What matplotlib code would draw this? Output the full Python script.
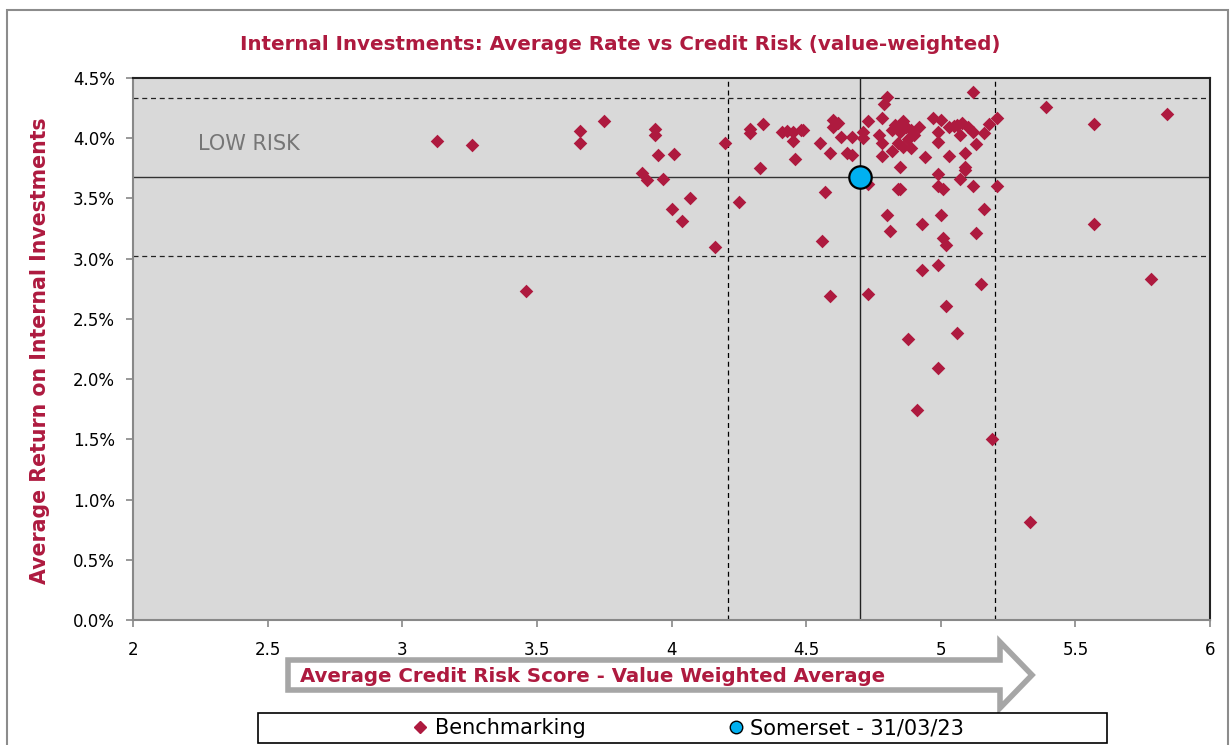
import numpy as np
import matplotlib
matplotlib.use('Agg')
import matplotlib.pyplot as plt
from matplotlib.patches import Rectangle, Polygon
from matplotlib.ticker import FuncFormatter

# benchmarking points: credit risk score, average return (%)
bench_x = [3.13, 3.26, 3.46, 3.66, 3.66, 3.75, 3.94, 3.94, 3.95, 4.01,
           3.89, 3.91, 3.97, 4.07, 4.00, 4.04, 4.16, 4.20, 4.25, 4.29,
           4.29, 4.34, 4.33, 4.41, 4.43, 4.45, 4.45, 4.46, 4.48, 4.49,
           4.55, 4.57, 4.56, 4.59, 4.59, 4.60, 4.62, 4.60, 4.63, 4.65,
           4.67, 4.67, 4.71, 4.71, 4.73, 4.73, 4.73, 4.78, 4.77, 4.78,
           4.78, 4.80, 4.79, 4.82, 4.85, 4.84, 4.85, 4.80, 4.81, 4.82,
           4.83, 4.85, 4.86, 4.87, 4.88, 4.89, 4.90, 4.92, 4.89, 4.84,
           4.86, 4.94, 4.97, 5.00, 4.99, 4.99, 5.03, 5.05, 5.06, 5.08,
           5.10, 5.07, 5.12, 5.16, 5.18, 5.21, 5.13, 5.09, 5.03, 5.09,
           5.12, 4.99, 4.99, 5.01, 5.07, 5.09, 5.12, 5.21, 5.00, 4.93,
           5.01, 5.02, 5.16, 5.13, 4.93, 4.99, 5.02, 5.15, 4.88, 5.06,
           4.99, 4.91, 5.19, 5.33, 5.39, 5.57, 5.57, 5.78, 5.84]
bench_y = [3.98, 3.94, 2.73, 4.06, 3.96, 4.14, 4.08, 4.03, 3.86, 3.87,
           3.71, 3.65, 3.66, 3.50, 3.41, 3.31, 3.10, 3.96, 3.47, 4.08,
           4.04, 4.12, 3.75, 4.05, 4.06, 4.05, 3.98, 3.83, 4.07, 4.07,
           3.96, 3.55, 3.15, 3.88, 2.69, 4.15, 4.13, 4.09, 4.01, 3.88,
           3.86, 4.01, 4.05, 4.00, 4.14, 3.62, 2.71, 4.17, 4.03, 3.96,
           3.85, 4.34, 4.28, 3.89, 3.76, 3.58, 3.58, 3.36, 3.23, 4.07,
           4.11, 4.05, 4.14, 4.09, 3.99, 4.07, 4.03, 4.09, 3.92, 3.96,
           3.93, 3.84, 4.17, 4.15, 4.05, 3.97, 4.09, 4.10, 4.11, 4.13,
           4.09, 4.03, 4.05, 4.04, 4.12, 4.17, 3.95, 3.88, 3.85, 3.76,
           4.38, 3.70, 3.60, 3.58, 3.66, 3.74, 3.60, 3.60, 3.36, 3.29,
           3.17, 3.11, 3.41, 3.21, 2.91, 2.95, 2.61, 2.79, 2.33, 2.38,
           2.09, 1.74, 1.50, 0.81, 4.26, 4.12, 3.29, 2.83, 4.20]
somerset_x = [4.70]
somerset_y = [3.68]

# quadrant reference lines
risk_lines = [4.21, 5.20]
risk_mid = 4.70
rate_lines = [4.33, 3.02]
rate_mid = 3.68

x_ticks = [2, 2.5, 3, 3.5, 4, 4.5, 5, 5.5, 6]
y_ticks = [0, 0.5, 1.0, 1.5, 2.0, 2.5, 3.0, 3.5, 4.0, 4.5]

red = '#AE1A3F'
W, H = 1231, 745
fig = plt.figure(figsize=(W / 100, H / 100), dpi=100)
ax = fig.add_axes([133 / W, 1 - 620 / H, 1077 / W, 542 / H])
ax.set_facecolor('#D9D9D9')

# outer frame
fig.patches.append(Rectangle((7 / W, -0.02), 1221 / W, 1 - 10 / H + 0.02,
                             transform=fig.transFigure, fill=False,
                             edgecolor='#8C8C8C', linewidth=1.5))

for v in risk_lines:
    ax.axvline(v, color='black', linestyle=(0, (4, 3)), linewidth=0.9, zorder=1)
ax.axvline(risk_mid, color='#222222', linewidth=1.0, zorder=1)
for h in rate_lines:
    ax.axhline(h, color='#222222', linestyle=(0, (4, 3)), linewidth=0.9, zorder=1)
ax.axhline(rate_mid, color='#333333', linewidth=1.0, zorder=1)

ax.scatter(bench_x, bench_y, marker='D', s=48, color=red, linewidths=0,
           zorder=3, label='Benchmarking')
ax.scatter(somerset_x, somerset_y, marker='o', s=260, color='#00B0F0',
           edgecolors='black', linewidths=1.6, zorder=4,
           label='Somerset - 31/03/23')

ax.text(2.24, 3.95, 'LOW RISK', color='#767676', fontsize=15,
        ha='left', va='center')

ax.set_xlim(2, 6)
ax.set_ylim(0, 4.5)
ax.set_xticks(x_ticks)
ax.set_yticks(y_ticks)
ax.xaxis.set_major_formatter(FuncFormatter(lambda v, p: f'{v:g}'))
ax.yaxis.set_major_formatter(FuncFormatter(lambda v, p: f'{v:.1f}%'))
ax.tick_params(axis='both', labelsize=12, colors='#888888', labelcolor='black',
               length=5, width=1.2, direction='out')
ax.tick_params(axis='x', pad=10)
ax.tick_params(axis='y', pad=8)
for side in ['left', 'bottom']:
    ax.spines[side].set_color('#888888')
    ax.spines[side].set_linewidth(1.5)
for side in ['top', 'right']:
    ax.spines[side].set_color('#222222')
    ax.spines[side].set_linewidth(1.5)

fig.text(620 / W, 1 - 45 / H,
         'Internal Investments: Average Rate vs Credit Risk (value-weighted)',
         color=red, fontsize=14.3, fontweight='bold', ha='center', va='center')
fig.text(40 / W, 1 - 351 / H, 'Average Return on Internal Investments',
         color=red, fontsize=14.8, fontweight='bold', rotation=90,
         ha='center', va='center')

# block arrow behind the x-axis title
arrow_px = [(288, 660), (1000, 660), (1000, 642), (1032, 675),
            (1000, 708), (1000, 690), (288, 690)]
fig.patches.append(Polygon([(px / W, 1 - py / H) for px, py in arrow_px],
                           closed=True, transform=fig.transFigure,
                           facecolor='white', edgecolor='#A6A6A6',
                           linewidth=4, joinstyle='miter'))
fig.text(300 / W, 1 - 677 / H,
         'Average Credit Risk Score - Value Weighted Average',
         color=red, fontsize=14.2, fontweight='bold', ha='left', va='center')

# legend box
fig.patches.append(Rectangle((258 / W, 1 - 743 / H), 849 / W, 30 / H,
                             transform=fig.transFigure, facecolor='white',
                             edgecolor='black', linewidth=1.2))
h1 = plt.Line2D([], [], marker='D', linestyle='none', color=red,
                markersize=6)
h2 = plt.Line2D([], [], marker='o', linestyle='none', color='#00B0F0',
                markeredgecolor='black', markersize=9)
fig.legend([h1, h2], ['Benchmarking', 'Somerset - 31/03/23'], ncol=2,
           loc='center', bbox_to_anchor=(688 / W, 1 - 728 / H),
           frameon=False, fontsize=15, handlelength=0.8, handletextpad=0.3,
           columnspacing=6.8)

fig.savefig('out.png', dpi=100)
